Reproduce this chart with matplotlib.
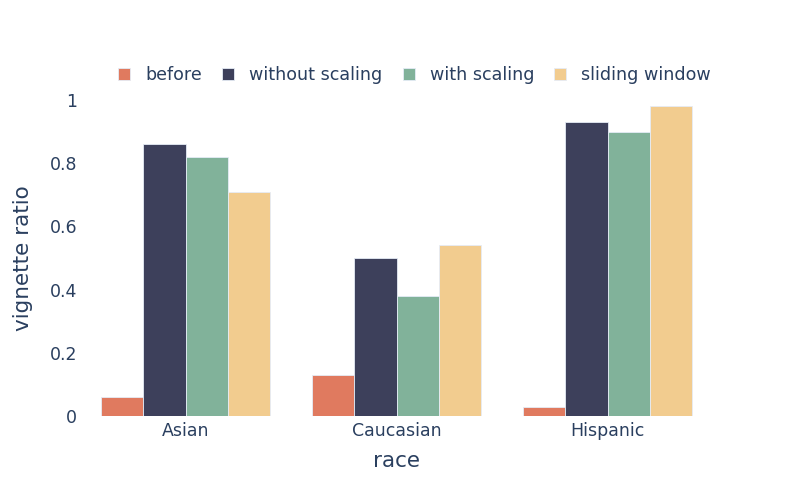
import matplotlib.pyplot as plt
import numpy as np
from matplotlib.patches import Patch

# 数据
races = ["Asian", "Caucasian", "Hispanic"]
series_names = ["before", "without scaling", "with scaling", "sliding window"]
before = [0.06, 0.13, 0.03]
without_scaling = [0.86, 0.50, 0.93]
with_scaling = [0.82, 0.38, 0.90]
sliding_window = [0.71, 0.54, 0.98]
colors = ["#E07A5F", "#3D405B", "#81B29A", "#F2CC8F"]

text_color = "#2a3f5f"
plt.rcParams['font.family'] = ['DejaVu Sans']

W, H = 793, 496
fig = plt.figure(figsize=(W / 100, H / 100), dpi=100)
ax = fig.add_axes([80 / W, 80 / H, 633 / W, 316 / H])

series = [before, without_scaling, with_scaling, sliding_window]
x = np.arange(len(races))
group_w = 0.8
bar_w = group_w / len(series)
for i, (vals, c) in enumerate(zip(series, colors)):
    offs = -group_w / 2 + bar_w * (i + 0.5)
    ax.bar(x + offs, vals, width=bar_w, color=c, edgecolor="#E5ECF6", linewidth=0.6)

ax.set_xlim(-0.5, len(races) - 0.5)
ax.set_ylim(0, 1)
ax.set_xticks(x)
ax.set_xticklabels(races)
ax.set_yticks([0, 0.2, 0.4, 0.6, 0.8, 1])
ax.set_yticklabels(["0", "0.2", "0.4", "0.6", "0.8", "1"])
ax.tick_params(length=0, labelsize=12.5, colors=text_color)
ax.tick_params(axis='x', pad=4)
ax.tick_params(axis='y', pad=2)
for s in ax.spines.values():
    s.set_visible(False)
ax.set_xlabel("race", fontsize=15.5, color=text_color, labelpad=8)
ax.set_ylabel("vignette ratio", fontsize=15.5, color=text_color, labelpad=12)

handles = [Patch(facecolor=c, edgecolor="#E5ECF6", linewidth=0.6) for c in colors]
fig.legend(handles, series_names, loc='center left', bbox_to_anchor=(118 / W, 1 - 75 / H),
           ncol=4, frameon=False, fontsize=12.6, labelcolor=text_color, borderpad=0,
           borderaxespad=0, handlelength=0.69, handleheight=0.69,
           handletextpad=0.86, columnspacing=1.15)

fig.savefig("out.png", dpi=100)
